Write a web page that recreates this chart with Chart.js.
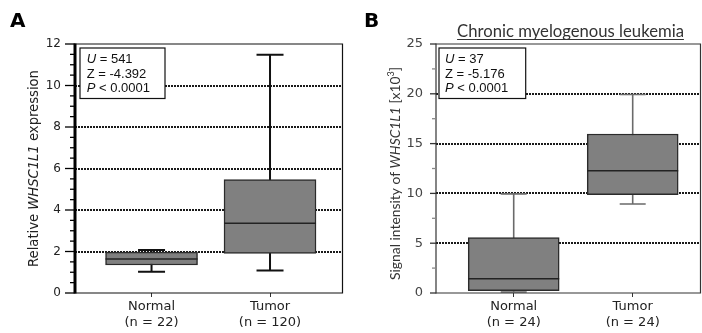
<!DOCTYPE html>
<html><head><meta charset="utf-8">
<script src="https://cdn.jsdelivr.net/npm/chart.js@4.4.1/dist/chart.umd.min.js"></script>
<style>
html,body{margin:0;padding:0;background:#fff;}
#wrap{position:relative;width:702px;height:333px;overflow:hidden;}
canvas{position:absolute;top:0;}
</style>
</head><body>
<div id="wrap">
<canvas id="ca" width="351" height="333" style="left:0;width:351px;height:333px"></canvas>
<canvas id="cb" width="351" height="333" style="left:351px;width:351px;height:333px"></canvas>
</div>
<script>
// ---------- data ----------
const categories = ['Normal', 'Tumor'];
const nA = [22, 120];
const nB = [24, 24];

// Panel A: relative WHSC1L1 expression
const minA = [1.03, 1.08];
const q1A  = [1.35, 1.91];
const medA = [1.64, 3.36];
const q3A  = [1.97, 5.47];
const maxA = [2.07, 11.48];

// Panel B: signal intensity [x10^3], chronic myelogenous leukemia
const minB = [0.10, 8.94];
const q1B  = [0.23, 9.88];
const medB = [1.43, 12.28];
const q3B  = [5.57, 15.96];
const maxB = [9.95, 19.93];

const yTicksA = [0, 2, 4, 6, 8, 10, 12];
const yTicksB = [0, 5, 10, 15, 20, 25];

const statNames  = ['U', 'Z', 'P'];
const statItalic = [true, false, true];
const statsA = ['= 541', '= -4.392', '< 0.0001'];
const statsB = ['= 37', '= -5.176', '< 0.0001'];
const titleB = 'Chronic myelogenous leukemia';

// ---------- helpers ----------
function richWidth(ctx, segs) {
  let w = 0;
  segs.forEach(s => { ctx.font = s.f; w += ctx.measureText(s.t).width; });
  return w;
}
function drawRichRot(ctx, segs, cx, cy, color) {
  ctx.save();
  ctx.translate(cx, cy);
  ctx.rotate(-Math.PI / 2);
  ctx.fillStyle = color;
  ctx.textBaseline = 'middle';
  ctx.textAlign = 'left';
  let x = -richWidth(ctx, segs) / 2;
  segs.forEach(s => {
    ctx.font = s.f;
    ctx.fillText(s.t, x, s.dy || 0);
    x += ctx.measureText(s.t).width;
  });
  ctx.restore();
}

function makePanel(p) {
  const yMin = p.yTicks[0], yMax = p.yTicks[p.yTicks.length - 1];
  const majorStep = p.yTicks[1] - p.yTicks[0];
  const minorStep = majorStep / p.minorDiv;

  const plugin = {
    id: 'boxplot' + p.id,
    beforeDatasetsDraw(chart) {
      const { ctx, scales: { x, y } } = chart;
      ctx.save();
      ctx.strokeStyle = p.whiskerColor;
      ctx.lineWidth = p.whiskerWidth;
      p.min.forEach((mn, i) => {
        const cx = x.getPixelForValue(i);
        const yLo = y.getPixelForValue(mn), yHi = y.getPixelForValue(p.max[i]);
        ctx.beginPath();
        ctx.moveTo(cx, yLo); ctx.lineTo(cx, yHi);
        ctx.moveTo(cx - p.cap / 2, yLo); ctx.lineTo(cx + p.cap / 2, yLo);
        ctx.moveTo(cx - p.cap / 2, yHi); ctx.lineTo(cx + p.cap / 2, yHi);
        ctx.stroke();
      });
      ctx.restore();
    },
    afterDatasetsDraw(chart) {
      const { ctx, scales: { y } } = chart;
      const meta = chart.getDatasetMeta(0);
      ctx.save();
      ctx.strokeStyle = '#222';
      ctx.lineWidth = 1.5;
      p.med.forEach((m, i) => {
        const el = meta.data[i];
        const py = y.getPixelForValue(m);
        ctx.beginPath();
        ctx.moveTo(el.x - el.width / 2, py);
        ctx.lineTo(el.x + el.width / 2, py);
        ctx.stroke();
      });
      ctx.restore();
    },
    afterDraw(chart) {
      const { ctx, chartArea: ca, scales: { y } } = chart;
      ctx.save();
      // frame
      ctx.strokeStyle = p.frameColor;
      ctx.lineWidth = 1.2;
      ctx.beginPath();
      ctx.moveTo(ca.left, ca.top); ctx.lineTo(ca.right - 0.5, ca.top);
      ctx.lineTo(ca.right - 0.5, ca.bottom); ctx.lineTo(ca.left, ca.bottom);
      ctx.stroke();
      // y axis line
      ctx.strokeStyle = p.axisColor;
      ctx.lineWidth = p.axisWidth;
      ctx.beginPath();
      ctx.moveTo(ca.left, ca.top - 0.5); ctx.lineTo(ca.left, ca.bottom + 0.5);
      ctx.stroke();
      // y tick marks (major & minor)
      y.ticks.forEach(t => {
        const major = p.yTicks.includes(t.value);
        const py = y.getPixelForValue(t.value);
        ctx.strokeStyle = major ? p.axisColor : p.minorColor;
        ctx.lineWidth = 1.3;
        ctx.beginPath();
        ctx.moveTo(ca.left - (major ? p.majorLen : p.minorLen), py);
        ctx.lineTo(ca.left, py);
        ctx.stroke();
      });
      // inset statistics box
      const bx = ca.left + p.inset.dx, by = ca.top + p.inset.dy;
      ctx.fillStyle = '#fff';
      ctx.fillRect(bx, by, p.inset.w, p.inset.h);
      ctx.strokeStyle = '#111';
      ctx.lineWidth = 1.2;
      ctx.strokeRect(bx, by, p.inset.w, p.inset.h);
      ctx.fillStyle = '#111';
      ctx.textBaseline = 'middle';
      ctx.textAlign = 'left';
      statNames.forEach((nm, i) => {
        const ty = by + 11.5 + i * 14.6;
        const tx = bx + p.inset.tx;
        ctx.font = (statItalic[i] ? 'italic ' : '') + '13px "Liberation Sans"';
        ctx.fillText(nm, tx, ty);
        const w = ctx.measureText(nm).width;
        ctx.font = '13px "Liberation Sans"';
        ctx.fillText(' ' + p.stats[i], tx + w, ty);
      });
      // panel letter
      ctx.font = 'bold 20px "DejaVu Sans"';
      ctx.fillStyle = '#000';
      ctx.textBaseline = 'alphabetic';
      ctx.fillText(p.letter, p.letterX, 27);
      // title
      if (p.title) {
        let fs = 15;
        ctx.font = fs + 'px Lato';
        fs = fs * p.titleWidth / ctx.measureText(p.title).width;
        ctx.font = fs + 'px Lato';
        const tw = ctx.measureText(p.title).width;
        const tcx = (ca.left + ca.right) / 2 + 2;
        ctx.fillStyle = '#333';
        ctx.textAlign = 'center';
        ctx.textBaseline = 'middle';
        ctx.fillText(p.title, tcx, 32);
        ctx.strokeStyle = '#333';
        ctx.lineWidth = 1;
        ctx.beginPath();
        ctx.moveTo(tcx - tw / 2, 39.5); ctx.lineTo(tcx + tw / 2, 39.5);
        ctx.stroke();
      }
      // y axis title
      let segs = p.yTitle(p.yTitleSize);
      const scale = p.yTitleLen / richWidth(ctx, segs);
      segs = p.yTitle(p.yTitleSize * scale);
      drawRichRot(ctx, segs, p.yTitleX, (ca.top + ca.bottom) / 2 + p.yTitleDy, p.yTitleColor);
      ctx.restore();
    }
  };

  return new Chart(document.getElementById(p.canvas), {
    type: 'bar',
    data: {
      datasets: [{
        data: p.q1.map((v, i) => ({ x: i, y: [v, p.q3[i]] })),
        backgroundColor: '#808080',
        borderColor: '#2b2b2b',
        borderWidth: 1.5,
        borderSkipped: false,
        barThickness: p.barWidth
      }]
    },
    options: {
      responsive: false,
      animation: false,
      events: [],
      devicePixelRatio: 1,
      layout: { padding: { left: 0, right: p.padRight, top: 44, bottom: 0 } },
      plugins: { legend: { display: false }, tooltip: { enabled: false } },
      scales: {
        x: {
          type: 'linear',
          offset: false,
          min: p.xMin, max: p.xMax,
          afterBuildTicks: s => { s.ticks = categories.map((c, i) => ({ value: i })); },
          afterFit: s => { s.height = 40; },
          ticks: {
            callback: v => [categories[v], '(n = ' + p.n[v] + ')'],
            font: { family: 'DejaVu Sans', size: 13, lineHeight: 1.25 },
            color: '#222',
            padding: 1,
            autoSkip: false,
            maxRotation: 0
          },
          grid: { display: true, drawOnChartArea: false, drawTicks: true, tickLength: 4, color: '#333', lineWidth: 1, offset: false },
          border: { display: false }
        },
        y: {
          min: yMin, max: yMax,
          afterFit: s => { s.width = p.yAxisWidth; },
          ticks: {
            stepSize: minorStep,
            autoSkip: false,
            callback: v => p.yTicks.includes(v) ? String(v) : '',
            font: { family: 'DejaVu Sans', size: p.yTickSize },
            color: p.yTickColor,
            padding: p.yTickPad
          },
          grid: {
            drawTicks: false,
            lineWidth: 2,
            color: c => (c.tick && p.yTicks.includes(c.tick.value) && c.tick.value !== yMin && c.tick.value !== yMax) ? '#1a1a1a' : 'rgba(0,0,0,0)'
          },
          border: { display: false, dash: [2, 1] }
        }
      }
    },
    plugins: [plugin]
  });
}

makePanel({
  id: 'A', canvas: 'ca', letter: 'A', letterX: 10,
  n: nA, min: minA, q1: q1A, med: medA, q3: q3A, max: maxA,
  yTicks: yTicksA, minorDiv: 4,
  xMin: -0.646, xMax: 1.616, padRight: 8, yAxisWidth: 75,
  barWidth: 92, cap: 27, whiskerColor: '#111', whiskerWidth: 2,
  frameColor: '#111', axisColor: '#000', axisWidth: 3, minorColor: '#000',
  majorLen: 10, minorLen: 5,
  yTickSize: 12, yTickColor: '#222', yTickPad: 14,
  stats: statsA, inset: { dx: 5, dy: 4, w: 85, h: 50.5, tx: 6.7 },
  title: null,
  yTitle: fs => [
    { t: 'Relative ', f: fs + 'px "DejaVu Sans"' },
    { t: 'WHSC1L1', f: 'italic ' + fs + 'px "DejaVu Sans"' },
    { t: ' expression', f: fs + 'px "DejaVu Sans"' }
  ],
  yTitleSize: 13, yTitleLen: 197, yTitleX: 35, yTitleDy: 0, yTitleColor: '#222'
});

makePanel({
  id: 'B', canvas: 'cb', letter: 'B', letterX: 13,
  n: nB, min: minB, q1: q1B, med: medB, q3: q3B, max: maxB,
  yTicks: yTicksB, minorDiv: 2,
  xMin: -0.653, xMax: 1.574, padRight: 1, yAxisWidth: 85,
  barWidth: 91, cap: 26, whiskerColor: '#6a6a6a', whiskerWidth: 1.6,
  frameColor: '#333', axisColor: '#333', axisWidth: 1.2, minorColor: '#888',
  majorLen: 6, minorLen: 4,
  yTickSize: 13, yTickColor: '#444', yTickPad: 13,
  stats: statsB, inset: { dx: 3, dy: 4, w: 86.7, h: 50.5, tx: 6 },
  title: titleB, titleWidth: 227,
  yTitle: fs => [
    { t: 'Signal intensity of ', f: fs + 'px Lato' },
    { t: 'WHSC1L1', f: 'italic ' + fs + 'px Lato' },
    { t: ' [x10', f: fs + 'px Lato' },
    { t: '3', f: (fs * 0.65) + 'px Lato', dy: -fs * 0.35 },
    { t: ']', f: fs + 'px Lato' }
  ],
  yTitleSize: 14, yTitleLen: 213, yTitleX: 45, yTitleDy: 5, yTitleColor: '#333'
});
</script>
</body></html>
